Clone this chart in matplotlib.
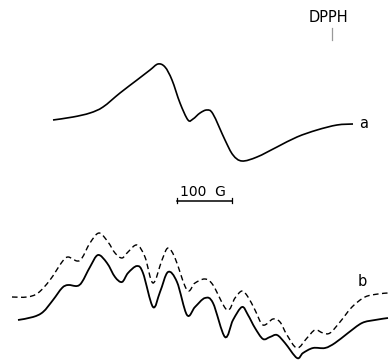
import numpy as np
import matplotlib.pyplot as plt
from matplotlib.path import Path
from matplotlib.patches import PathPatch

# traced spectra (field position, signal) in picture units
a_x = [53, 73, 90, 103, 120, 137, 150, 158, 165, 172, 180, 188, 193, 200, 207, 213,
       225, 233, 242, 257, 277, 297, 317, 337, 353]
a_y = [120, 117, 113, 107, 93, 80, 70, 64, 67, 80, 103, 120, 119, 113, 110, 114,
       140, 155, 161, 157, 147, 137, 130, 125, 124]

b_x = [18, 33, 43, 53, 62, 68, 77, 82, 90, 98, 107, 115, 122, 128, 137, 143, 153,
       160, 168, 177, 187, 195, 205, 213, 225, 233, 242, 248, 255, 263, 270, 277,
       285, 297, 303, 313, 325, 335, 348, 362, 375, 388]
b_y = [320, 317, 312, 300, 288, 285, 286, 282, 267, 255, 263, 277, 282, 273, 266,
       273, 307, 292, 272, 282, 315, 307, 298, 303, 337, 320, 307, 315, 328, 339,
       337, 335, 343, 358, 353, 348, 348, 343, 333, 323, 320, 318]

b2_x = [12, 27, 38, 50, 62, 68, 77, 82, 90, 99, 108, 115, 122, 128, 137, 145, 153,
        162, 168, 175, 187, 195, 205, 213, 227, 235, 242, 248, 255, 263, 273, 280,
        287, 297, 307, 315, 323, 330, 340, 352, 365, 378, 388]
b2_y = [297, 297, 293, 280, 262, 257, 261, 258, 243, 233, 242, 253, 258, 252, 245,
        257, 283, 260, 248, 258, 290, 283, 279, 285, 310, 298, 291, 297, 310, 325,
        319, 322, 335, 348, 338, 330, 333, 333, 322, 307, 297, 294, 293]


def smooth_path(xs, ys):
    # catmull-rom through the traced points, drawn as cubic bezier segments
    p = np.column_stack([xs, ys]).astype(float)
    verts = [p[0]]
    codes = [Path.MOVETO]
    for i in range(len(p) - 1):
        p0 = p[i - 1] if i > 0 else p[i]
        p3 = p[i + 2] if i + 2 < len(p) else p[i + 1]
        c1 = p[i] + (p[i + 1] - p0) / 6
        c2 = p[i + 1] - (p3 - p[i]) / 6
        verts += [c1, c2, p[i + 1]]
        codes += [Path.CURVE4] * 3
    return Path(verts, codes)


fig = plt.figure(figsize=(3.89, 3.61), dpi=100)
ax = fig.add_axes([0, 0, 1, 1])
ax.set_xlim(0, 389)
ax.set_ylim(361, 0)
ax.axis('off')

ax.add_patch(PathPatch(smooth_path(a_x, a_y), fill=False, ec='black', lw=1.2))
ax.add_patch(PathPatch(smooth_path(b_x, b_y), fill=False, ec='black', lw=1.3))
ax.add_patch(PathPatch(smooth_path(b2_x, b2_y), fill=False, ec='black', lw=1.0,
                       linestyle=(0, (4, 2.5))))

ax.text(364, 124, 'a', fontsize=10.5, ha='center', va='center')
ax.text(362, 281, 'b', fontsize=10.5, ha='center', va='center')

# DPPH marker
ax.text(328, 18, 'DPPH', fontsize=10.5, ha='center', va='center')
ax.plot([332, 332], [28, 40], color='#999999', lw=0.9)

# scale bar
ax.text(203, 192, '100  G', fontsize=10, ha='center', va='center')
ax.plot([177, 232], [201, 201], color='black', lw=1.1)
ax.plot([177, 177], [198, 203], color='black', lw=0.9)
ax.plot([232, 232], [198, 203], color='black', lw=0.9)

plt.savefig('out.png', dpi=100)
